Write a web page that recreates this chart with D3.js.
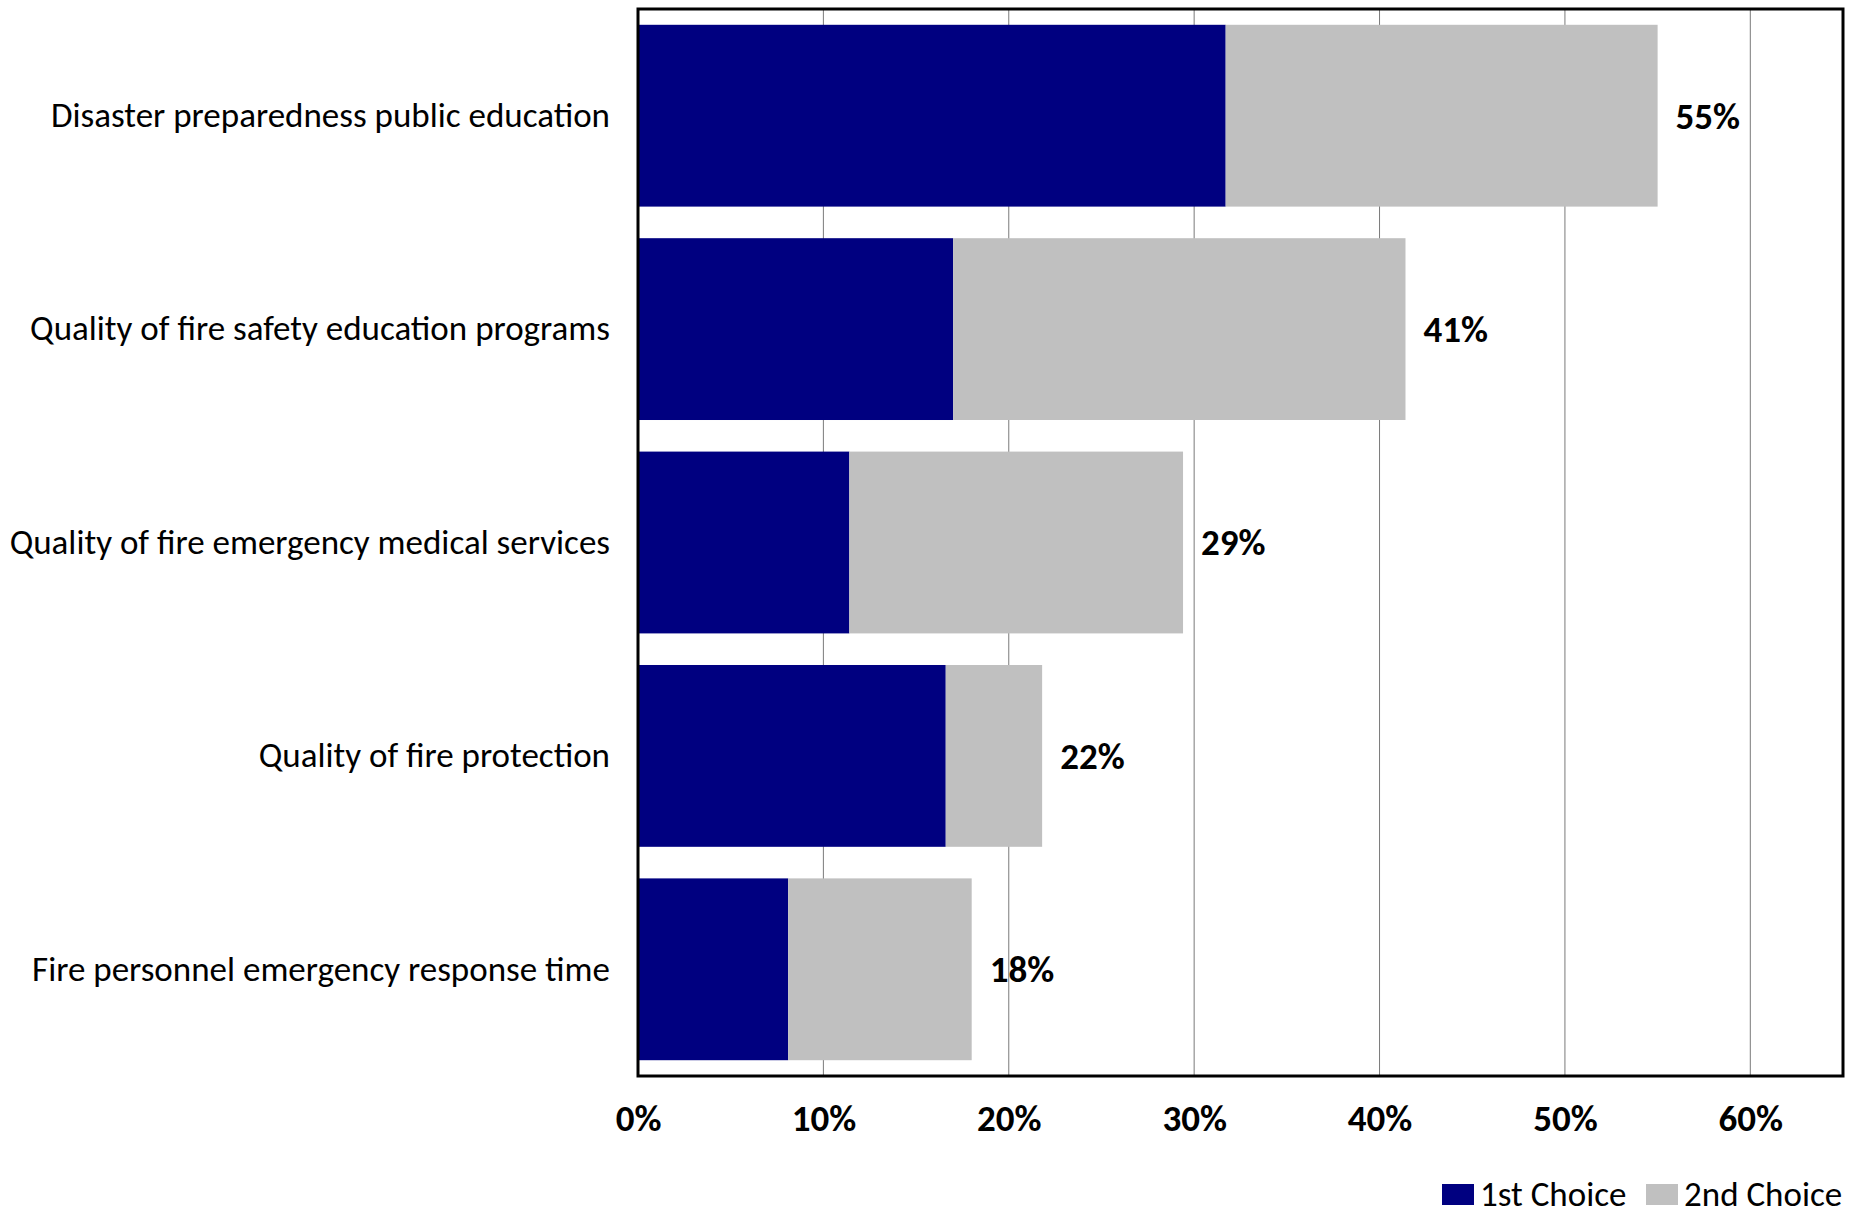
<!DOCTYPE html>
<html>
<head>
<meta charset="utf-8">
<script src="https://cdn.jsdelivr.net/npm/d3@7"></script>
<style>
  html, body { margin: 0; padding: 0; background: #fff; }
  svg { display: block; font-family: Carlito, Calibri, Lato, sans-serif; }
</style>
</head>
<body>
<svg id="chart" width="1849" height="1211"></svg>
<script>
// Service priorities: share of respondents naming each item as 1st or 2nd choice (%)
const categories = [
  "Disaster preparedness public education",
  "Quality of fire safety education programs",
  "Quality of fire emergency medical services",
  "Quality of fire protection",
  "Fire personnel emergency response time"
];
const firstChoice  = [31.7, 17.0, 11.4, 16.6, 8.1];
const secondChoice = [23.3, 24.4, 18.0, 5.2, 9.9];
const totalLabels  = [55, 41, 29, 22, 18];
const seriesNames  = ["1st Choice", "2nd Choice"];
const tickValues   = [0, 10, 20, 30, 40, 50, 60];

const colors = ["#000080", "#C0C0C0"];
const FONT = "Carlito, Calibri, Lato, sans-serif";

const svg = d3.select("#chart");
const margin = { left: 638, top: 9, right: 1843, bottom: 1076 };

const x = d3.scaleLinear().domain([0, 65]).range([margin.left, margin.right]);
const y = d3.scaleBand().domain(categories).range([margin.top, margin.bottom])
  .paddingInner(0.148).paddingOuter(0.074);

// stacked layout
const rows = categories.map((c, i) => ({ cat: c, a: firstChoice[i], b: secondChoice[i], t: totalLabels[i] }));
const stack = d3.stack().keys(["a", "b"])(rows);

// vertical gridlines
svg.append("g")
  .selectAll("line")
  .data(tickValues.filter(d => d > 0))
  .join("line")
  .attr("x1", d => x(d)).attr("x2", d => x(d))
  .attr("y1", margin.top).attr("y2", margin.bottom)
  .attr("stroke", "#7a7a7a").attr("stroke-width", 1);

// bars
svg.append("g")
  .selectAll("g")
  .data(stack)
  .join("g")
  .attr("fill", (d, i) => colors[i])
  .selectAll("rect")
  .data(d => d)
  .join("rect")
  .attr("x", d => x(d[0]))
  .attr("width", d => x(d[1]) - x(d[0]))
  .attr("y", d => y(d.data.cat))
  .attr("height", y.bandwidth());

// value labels at bar ends
svg.append("g")
  .selectAll("text")
  .data(rows)
  .join("text")
  .attr("x", d => x(d.a + d.b) + 18)
  .attr("y", d => y(d.cat) + y.bandwidth() / 2)
  .attr("dy", "0.35em")
  .attr("font-size", 37)
  .attr("font-weight", "bold")
  .attr("fill", "#000")
  .text(d => d.t + "%");

// category axis
const yAxis = d3.axisLeft(y).tickSize(0).tickPadding(28);
const gy = svg.append("g")
  .attr("transform", `translate(${margin.left},0)`)
  .call(yAxis);
gy.select(".domain").remove();
gy.selectAll("text")
  .attr("font-size", 35)
  .attr("font-family", FONT)
  .attr("fill", "#000");

// percentage axis
const xAxis = d3.axisBottom(x).tickValues(tickValues).tickSize(0).tickPadding(0)
  .tickFormat(d => d + "%");
const gx = svg.append("g")
  .attr("transform", `translate(0,${margin.bottom})`)
  .call(xAxis);
gx.select(".domain").remove();
gx.selectAll("text")
  .attr("y", 55)
  .attr("dy", 0)
  .attr("font-size", 37)
  .attr("font-weight", "bold")
  .attr("font-family", FONT)
  .attr("fill", "#000");

// plot frame
svg.append("rect")
  .attr("x", margin.left).attr("y", margin.top)
  .attr("width", margin.right - margin.left)
  .attr("height", margin.bottom - margin.top)
  .attr("fill", "none").attr("stroke", "#000").attr("stroke-width", 3);

// legend
const legend = svg.append("g").attr("transform", "translate(1442,1206)");
const legendX = [0, 204];
seriesNames.forEach((name, i) => {
  const g = legend.append("g").attr("transform", `translate(${legendX[i]},0)`);
  g.append("rect").attr("x", 0).attr("y", -22).attr("width", 32).attr("height", 21)
    .attr("fill", colors[i]);
  g.append("text").attr("x", 38).attr("y", 0)
    .attr("font-size", 35).attr("fill", "#000").text(name);
});
</script>
</body>
</html>
